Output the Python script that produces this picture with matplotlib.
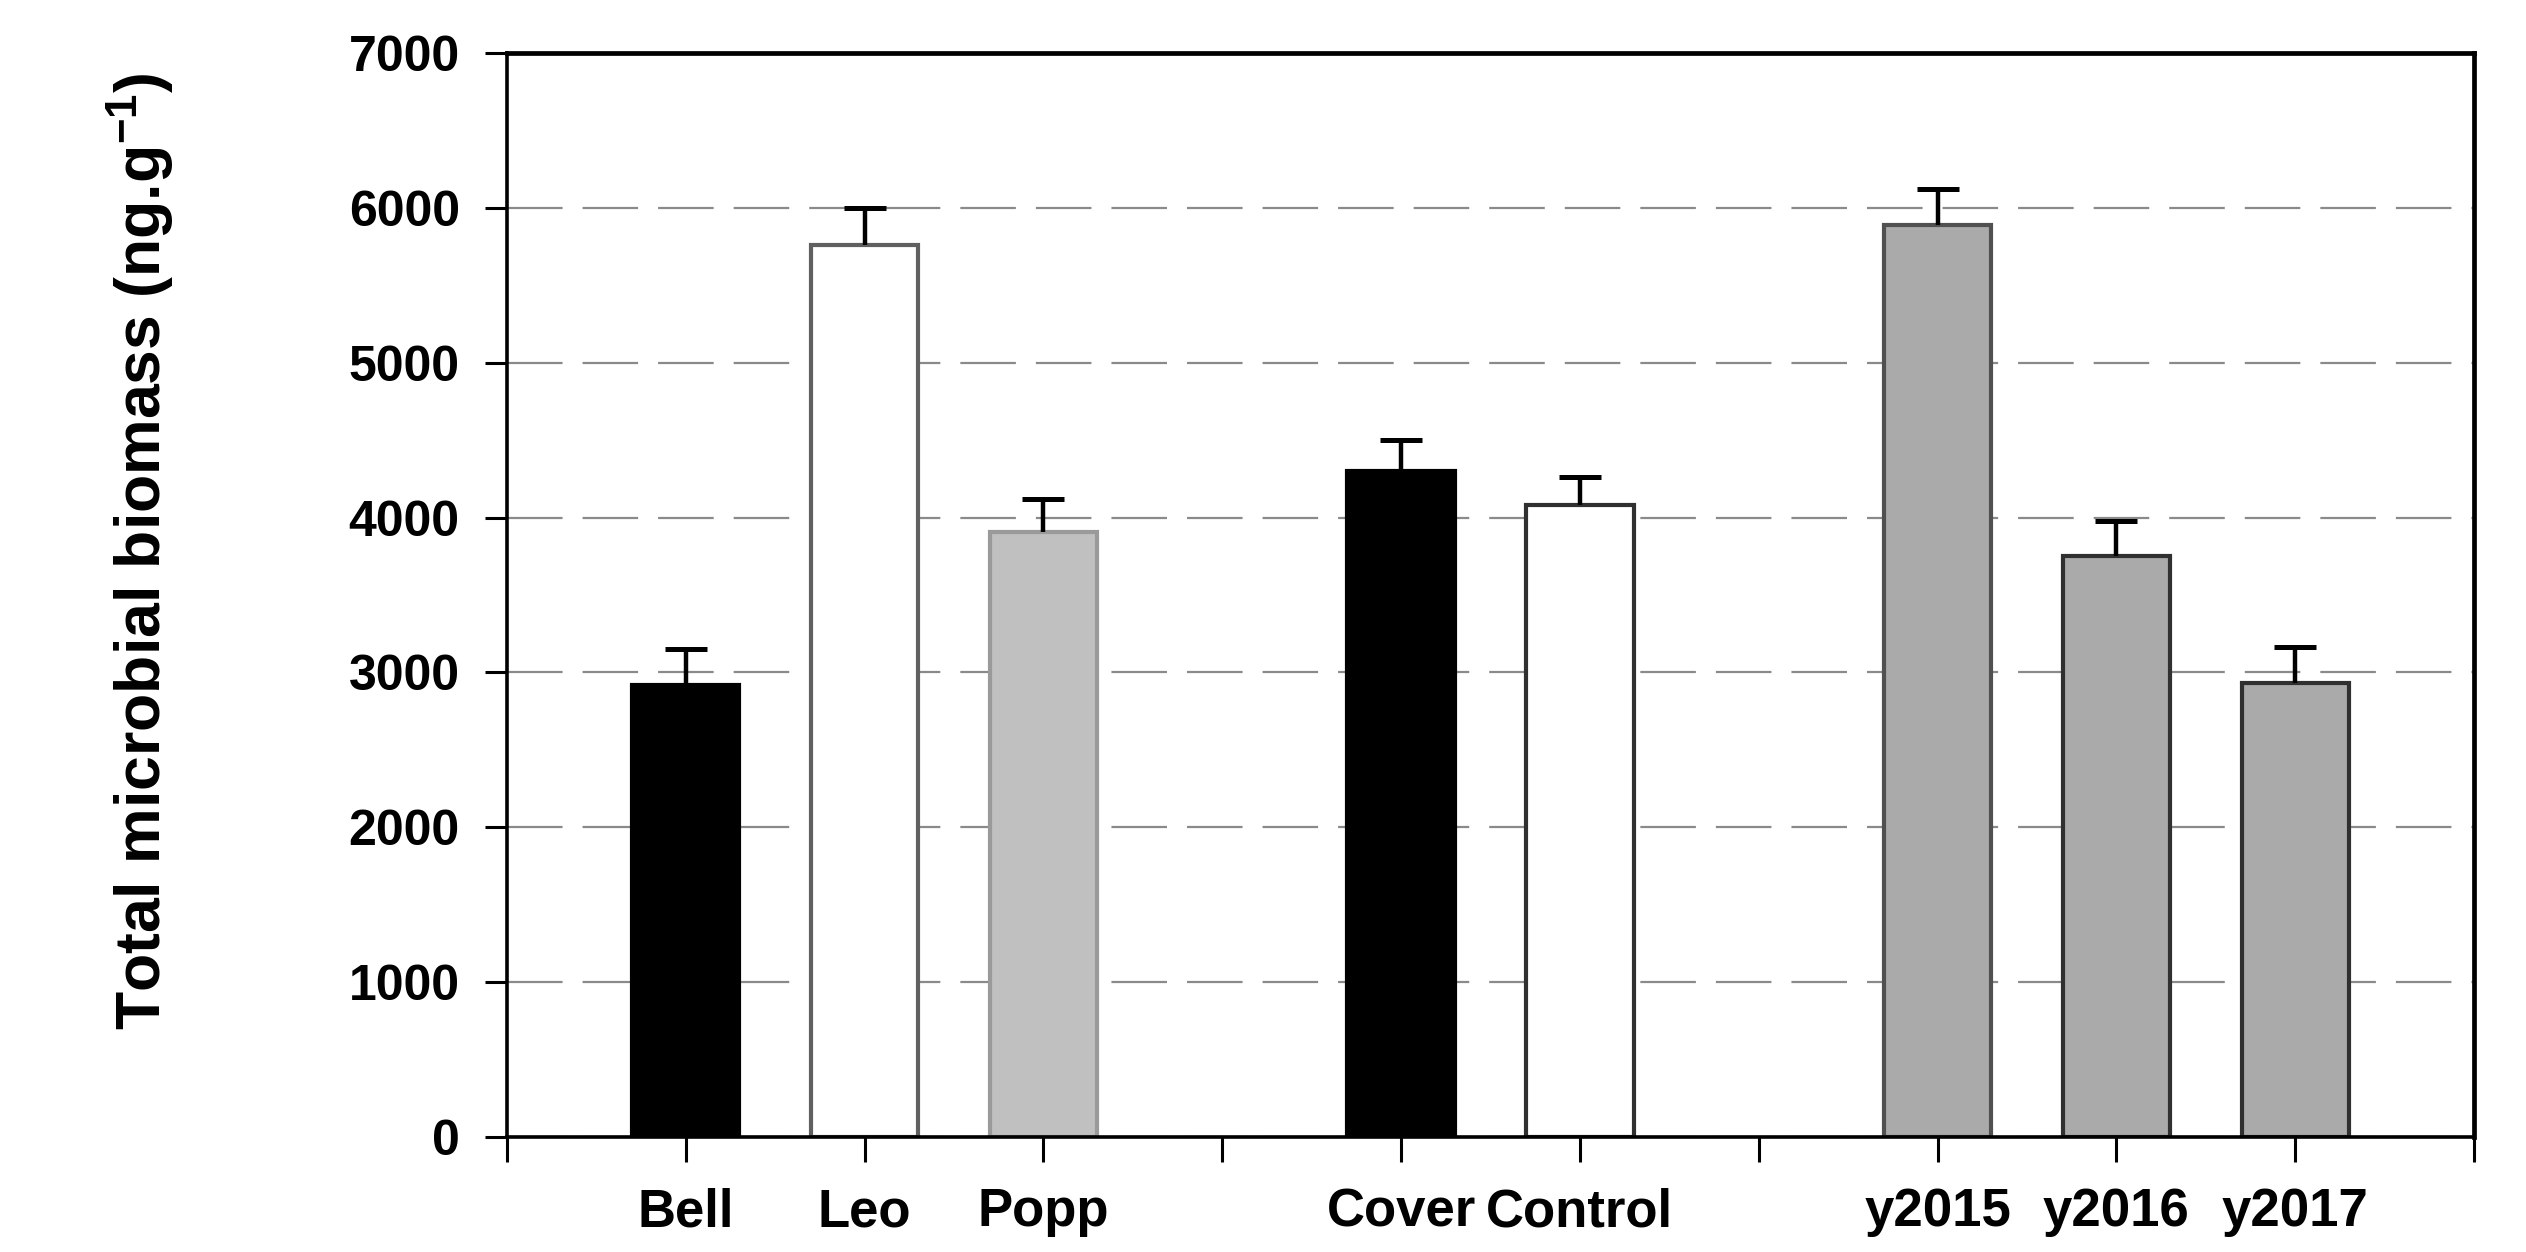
import matplotlib
matplotlib.use("Agg")
import matplotlib.pyplot as plt
import numpy as np

# Treatment groups: cultivar, cover crop, sampling year
cultivars = ["Bell", "Leo", "Popp"]
cultivar_means = [2920, 5760, 3905]
cultivar_se = [230, 240, 215]

cover = ["Cover", "Control"]
cover_means = [4300, 4080]
cover_se = [200, 180]

years = ["y2015", "y2016", "y2017"]
year_means = [5890, 3750, 2935]
year_se = [230, 230, 230]

y_ticks = [0, 1000, 2000, 3000, 4000, 5000, 6000, 7000]

plt.rcParams["font.family"] = ["Liberation Sans", "DejaVu Sans"]
plt.rcParams["font.weight"] = "bold"

groups = [
    (cultivars, cultivar_means, cultivar_se,
     ["#000000", "#ffffff", "#c0c0c0"], ["#000000", "#606060", "#9a9a9a"]),
    (cover, cover_means, cover_se,
     ["#000000", "#ffffff"], ["#000000", "#303030"]),
    (years, year_means, year_se,
     ["#aaaaaa", "#aaaaaa", "#aaaaaa"], ["#505050", "#303030", "#303030"]),
]

fig = plt.figure(figsize=(25.26, 12.52), dpi=100)
ax = fig.add_axes([0.2007, 0.0918, 0.7787, 0.8659])

labels_all = []
pos_all = []
pos = 1
for names, means, se, fills, edges in groups:
    xs = np.arange(pos, pos + len(names))
    ax.bar(xs, means, width=0.6, color=fills, edgecolor=edges,
           linewidth=3, zorder=3)
    lower = np.zeros(len(means))
    _, caps, _ = ax.errorbar(xs, means, yerr=[lower, se], fmt="none",
                             ecolor="black", elinewidth=3.2, capsize=15,
                             capthick=3.6, zorder=4)
    caps[0].set_visible(False)
    labels_all += names
    pos_all += list(xs)
    pos = xs[-1] + 2

n_slots = pos - 1
ax.set_xlim(0, n_slots)
ax.set_ylim(0, 7000)

tick_pos = np.arange(0, n_slots + 1)
tick_labels = [labels_all[pos_all.index(t)] if t in pos_all else "" for t in tick_pos]
ax.set_xticks(tick_pos)
ax.set_xticklabels(tick_labels, fontsize=38, fontweight="bold")
ax.set_yticks(y_ticks)
ax.set_yticklabels([str(v) for v in y_ticks], fontsize=36, fontweight="bold")

ax.tick_params(axis="x", direction="out", length=18, width=2.2, pad=18, colors="black")
ax.tick_params(axis="y", direction="out", length=16, width=2.2, pad=18, colors="black")

ax.yaxis.grid(True, color="#8a8a8a", linewidth=1.6, linestyle=(0, (25, 9)), zorder=0)
ax.set_axisbelow(True)

for side in ["left", "bottom"]:
    ax.spines[side].set_linewidth(2.6)
for side in ["top", "right"]:
    ax.spines[side].set_linewidth(3.4)
for sp in ax.spines.values():
    sp.set_zorder(5)

ax.set_ylabel("Total microbial biomass (ng.g$^{\\mathregular{-1}}$)", fontsize=45,
              fontweight="bold")
ax.yaxis.set_label_coords(-0.168, 0.54)

fig.savefig("out.png", dpi=100, facecolor="white")
